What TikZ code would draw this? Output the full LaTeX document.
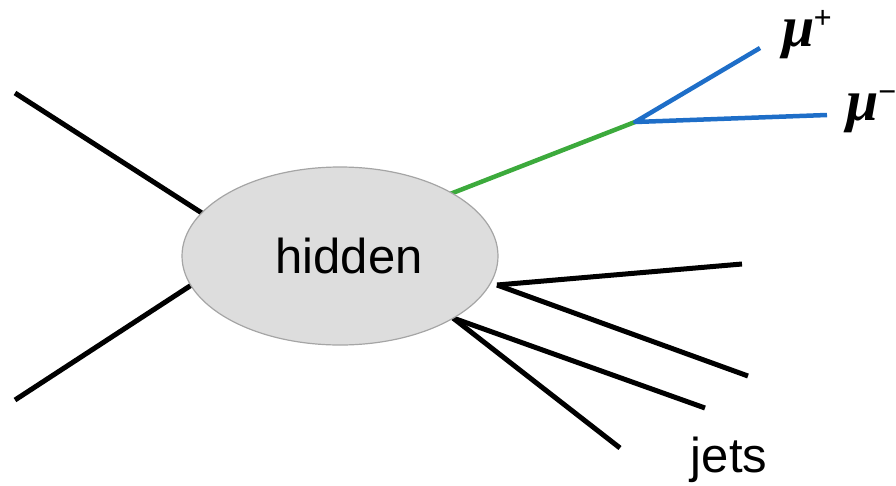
\documentclass[tikz,border=0pt]{standalone}
\usepackage{fontspec}
\setmainfont{Liberation Sans}
\newfontfamily\mufont{Liberation Serif}
\usetikzlibrary{shapes.geometric}
\definecolor{fillgray}{RGB}{221,221,221}
\definecolor{edgegray}{RGB}{165,165,165}
\definecolor{zgreen}{RGB}{60,170,60}
\definecolor{mublue}{RGB}{30,110,200}
\tikzset{
  blob/.style={ellipse, draw=edgegray, line width=1.2pt, fill=fillgray, minimum width=316pt, minimum height=178pt, inner sep=0pt},
  leg/.style={line width=5pt, black},
  zline/.style={line width=4.5pt, zgreen},
  muline/.style={line width=4.5pt, mublue},
  lbl/.style={font=\fontsize{49}{56}\selectfont, inner sep=0pt},
  mulbl/.style={font=\fontsize{58}{64}\selectfont\mufont\bfseries\itshape, inner sep=0pt, anchor=base west}
}
\newcommand{\supsign}[1]{\kern-0.02em\raisebox{0.3em}{\fontsize{32}{36}\selectfont\mufont\itshape #1}}
\begin{document}
\begin{tikzpicture}[x=1pt,y=-1pt]
\useasboundingbox (0,0) rectangle (896,485);
% endpoints
\coordinate (a1) at (15,93);
\coordinate (a2) at (205,215);
\coordinate (b1) at (15,400);
\coordinate (b2) at (193,284);
\coordinate (zs) at (450,194);
\coordinate (zv) at (635,122);
\coordinate (mp) at (760,48);
\coordinate (mm) at (827,115);
\coordinate (js1) at (497,285);
\coordinate (je1) at (742,264);
\coordinate (je2) at (748,376);
\coordinate (js2) at (453,318);
\coordinate (je3) at (705,408);
\coordinate (je4) at (620,448);
\draw[leg] (a1) -- (a2);
\draw[leg] (b1) -- (b2);
\draw[leg] (js1) -- (je1);
\draw[leg] (js1) -- (je2);
\draw[leg] (js2) -- (je3);
\draw[leg] (js2) -- (je4);
\draw[zline] (zs) -- (zv);
\draw[muline, line join=round] (mp) -- (zv) -- (mm);
\node[blob] (hid) at (340,256) {};
\node[lbl] (hidtxt) at (349,256) {hidden};
\node[lbl] (jets) at (729,460) {jets};
\node[mulbl] (mup) at (782,46) {μ\supsign{+}};
\node[mulbl] (mum) at (846,120) {μ\supsign{−}};
\end{tikzpicture}
\end{document}
